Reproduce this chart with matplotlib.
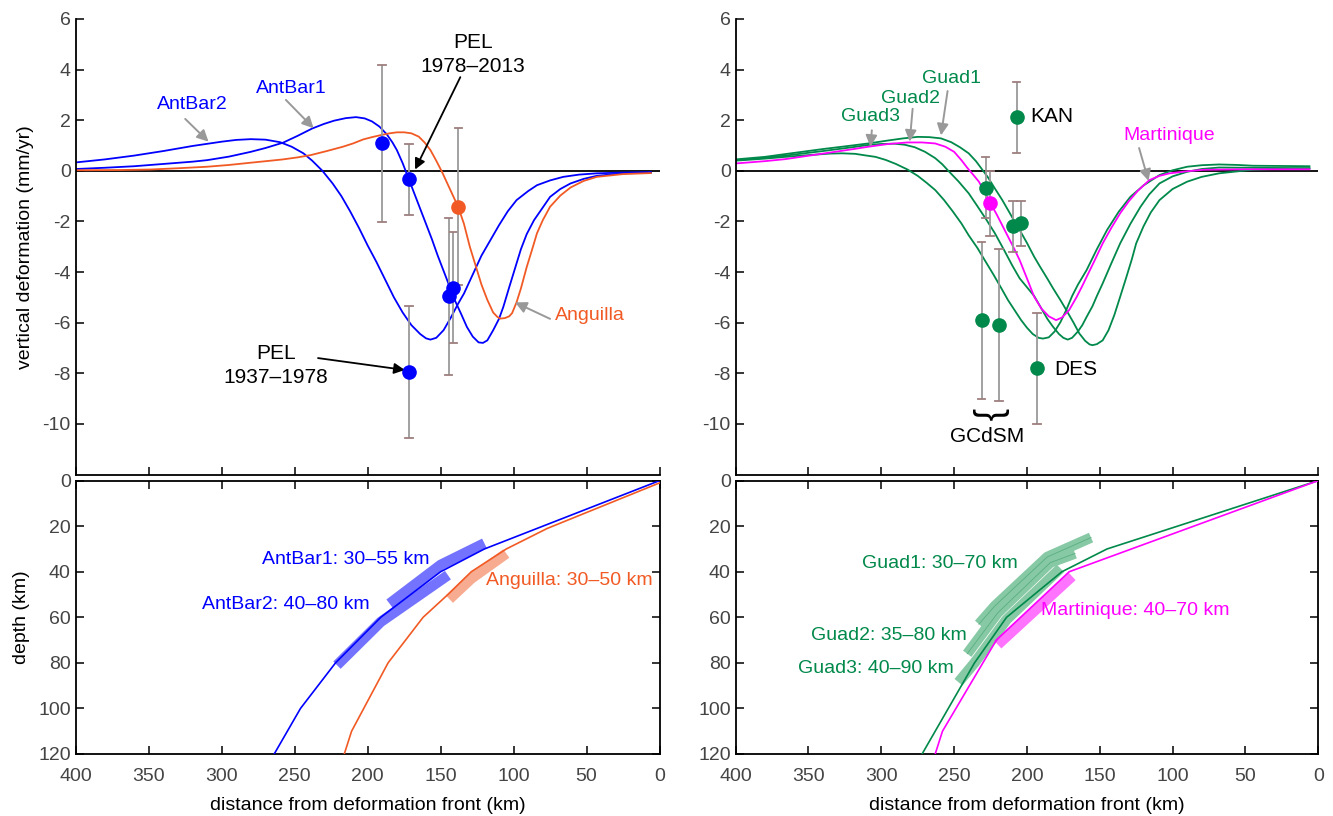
import numpy as np
import matplotlib
matplotlib.use("Agg")
import matplotlib.pyplot as plt

# colours
BLUE = "#0000ff"
ORANGE = "#f15a24"
GREEN = "#00894a"
MAGENTA = "#ff00ff"
GREY = "#9a9a9a"
CAP = "#9e7e7e"
NARROW = ["Liberation Sans Narrow", "Liberation Sans", "DejaVu Sans"]
PLAIN = ["Liberation Sans", "DejaVu Sans"]

# ---- top left: vertical deformation, Antigua/Barbuda + Anguilla models ----
antbar2_d = [400, 380, 360, 340, 320, 300, 290, 280, 270, 260, 252, 244, 238, 231,
             224, 218, 212, 206, 200, 194, 188, 182, 176, 170, 164, 160, 157, 153,
             148, 143, 138, 134, 128, 122, 116, 110, 104, 98, 90, 84, 75, 66, 55, 43,
             25, 6]
antbar2_v = [0.33, 0.45, 0.6, 0.78, 0.98, 1.15, 1.22, 1.25, 1.23, 1.13, 0.95, 0.69,
             0.4, 0.0, -0.5, -1.0, -1.6, -2.25, -2.95, -3.6, -4.3, -5.0, -5.6, -6.1,
             -6.45, -6.62, -6.67, -6.6, -6.3, -5.8, -5.25, -4.85, -4.1, -3.35, -2.75,
             -2.15, -1.6, -1.16, -0.8, -0.57, -0.38, -0.24, -0.15, -0.1, -0.07, -0.05]

antbar1_d = [400, 380, 360, 340, 320, 310, 295, 280, 270, 258, 248, 238, 230, 223,
             215, 208, 202, 197, 192, 187, 183, 180, 176, 172, 168, 164, 160, 156,
             152, 148, 144, 140, 136, 132, 128, 124, 121, 118, 114, 110, 107, 103, 99,
             95, 91, 86, 80, 75, 68, 61, 52, 43, 25, 6]
antbar1_v = [0.07, 0.12, 0.18, 0.27, 0.36, 0.42, 0.56, 0.75, 0.9, 1.11, 1.38, 1.67,
             1.85, 1.98, 2.08, 2.12, 2.07, 1.95, 1.75, 1.45, 1.12, 0.82, 0.3, -0.3,
             -0.9, -1.5, -2.1, -2.7, -3.35, -3.95, -4.55, -5.15, -5.65, -6.17, -6.55,
             -6.78, -6.8, -6.7, -6.3, -5.85, -5.37, -4.6, -3.85, -3.1, -2.5, -1.95,
             -1.45, -1.03, -0.72, -0.5, -0.32, -0.2, -0.1, -0.08]

anguilla_d = [400, 370, 349, 330, 310, 295, 280, 268, 258, 248, 239, 228, 217, 210,
              203, 197, 191, 185, 180, 175, 170, 165, 161, 157, 153, 149, 145, 141,
              138, 134, 130, 126, 122, 118, 114, 111, 109, 106, 103, 101, 98, 95, 91,
              87, 84, 80, 75, 68, 61, 52, 43, 25, 6]
anguilla_v = [0.02, 0.03, 0.05, 0.1, 0.16, 0.23, 0.32, 0.39, 0.45, 0.53, 0.62, 0.78,
              0.95, 1.08, 1.24, 1.33, 1.41, 1.48, 1.52, 1.52, 1.48, 1.35, 1.12, 0.82,
              0.4, -0.05, -0.55, -1.05, -1.42, -2.1, -3.0, -3.75, -4.5, -5.1, -5.6,
              -5.78, -5.84, -5.82, -5.75, -5.62, -5.2, -4.65, -3.8, -3.05, -2.47,
              -1.95, -1.42, -0.98, -0.66, -0.4, -0.24, -0.13, -0.09]

# observations (distance, rate, error)
obs_blue_d = [190, 171.6, 144.6, 141.2, 171.6]
obs_blue_v = [1.08, -0.33, -4.95, -4.62, -7.95]
obs_blue_e = [3.1, 1.4, 3.1, 2.2, 2.6]
obs_orange_d = [137.8]
obs_orange_v = [-1.42]
obs_orange_e = [3.1]

# ---- top right: Guadeloupe / Martinique models ----
guad3_d = [400, 380, 366, 350, 335, 327, 318, 310, 304, 297, 290, 282, 275, 269, 263,
           257, 251, 245, 240, 234, 229, 223, 218, 213, 208, 204, 200, 196, 192, 189,
           185, 181, 177, 173, 169, 165, 159, 152, 145, 137, 129, 120, 109, 100, 90,
           80, 68, 55, 45, 25, 6]
guad3_v = [0.4, 0.48, 0.55, 0.62, 0.68, 0.69, 0.67, 0.6, 0.55, 0.43, 0.27, 0.05, -0.2,
           -0.47, -0.76, -1.15, -1.6, -2.08, -2.55, -3.05, -3.53, -4.1, -4.6, -5.11,
           -5.55, -5.9, -6.2, -6.45, -6.6, -6.63, -6.58, -6.35, -5.98, -5.5, -4.95,
           -4.5, -3.92, -3.1, -2.34, -1.62, -1.03, -0.58, -0.17, 0.02, 0.16, 0.22,
           0.25, 0.23, 0.2, 0.19, 0.18]

guad2_d = [400, 380, 366, 340, 320, 309, 300, 291, 284, 277, 270, 263, 258, 254, 247,
           240, 234, 228, 222, 216, 210, 205, 200, 195, 190, 186, 182, 178, 175, 172,
           169, 165, 162, 159, 155, 152, 148, 142, 136, 129, 122, 116, 109, 100, 90,
           80, 68, 50, 25, 6]
guad2_v = [0.42, 0.52, 0.6, 0.78, 0.93, 1.02, 1.06, 1.07, 1.03, 0.93, 0.75, 0.5, 0.25,
           0.0, -0.42, -0.89, -1.4, -1.92, -2.47, -3.1, -3.75, -4.25, -4.6, -4.95,
           -5.45, -5.85, -6.17, -6.45, -6.6, -6.67, -6.6, -6.35, -6.1, -5.77, -5.35,
           -4.95, -4.45, -3.65, -2.87, -2.1, -1.42, -0.93, -0.5, -0.22, -0.04, 0.07,
           0.13, 0.12, 0.11, 0.1]

guad1_d = [400, 380, 366, 340, 320, 309, 295, 285, 275, 267, 259, 252, 246, 240, 235,
           231, 227, 222, 217, 213, 209, 205, 200, 195, 191, 186, 182, 177, 173, 168,
           164, 160, 157, 155, 152, 148, 144, 140, 136, 132, 128, 125, 120, 115, 109,
           100, 90, 80, 68, 55, 45, 25, 6]
guad1_v = [0.45, 0.55, 0.66, 0.86, 1.0, 1.08, 1.2, 1.28, 1.34, 1.33, 1.28, 1.13, 0.93,
           0.69, 0.38, 0.07, -0.24, -0.7, -1.15, -1.55, -1.95, -2.34, -2.85, -3.4,
           -3.79, -4.26, -4.65, -5.11, -5.5, -6.0, -6.43, -6.72, -6.86, -6.89, -6.85,
           -6.7, -6.3, -5.7, -4.98, -4.25, -3.5, -2.87, -2.2, -1.65, -1.16, -0.72,
           -0.43, -0.24, -0.1, -0.02, 0.04, 0.08, 0.1]

mart_d = [400, 380, 366, 340, 320, 309, 295, 282, 272, 263, 256, 250, 245, 241, 237,
          233, 229, 225, 221, 217, 213, 209, 205, 200, 195, 190, 185, 180, 176, 171,
          166, 162, 159, 154, 148, 142, 136, 130, 124, 116, 109, 102, 90, 79, 50, 6]
mart_v = [0.29, 0.38, 0.46, 0.68, 0.85, 0.95, 1.06, 1.12, 1.12, 1.08, 0.95, 0.75, 0.42,
          0.12, -0.15, -0.43, -0.85, -1.29, -1.7, -2.15, -2.6, -3.05, -3.53, -4.25,
          -4.98, -5.45, -5.75, -5.9, -5.8, -5.5, -5.0, -4.55, -4.19, -3.6, -2.87,
          -2.25, -1.68, -1.2, -0.8, -0.37, -0.2, -0.1, -0.02, 0.04, 0.06, 0.06]

obs_green_d = [207.1, 228.4, 209.4, 204.1, 231.1, 219.0, 192.9]
obs_green_v = [2.11, -0.67, -2.19, -2.08, -5.9, -6.1, -7.8]
obs_green_e = [1.4, 1.2, 1.0, 0.9, 3.1, 3.0, 2.2]
obs_mag_d = [225.4]
obs_mag_v = [-1.29]
obs_mag_e = [1.3]

# ---- bottom: slab geometry (distance, depth) ----
slab_ant_d = [264, 246, 222, 191, 150, 120, 0]
slab_ant_z = [120, 100, 80, 60, 40, 30, 0]
slab_ang_d = [216, 211, 186, 162, 145, 129, 105, 77, 0]
slab_ang_z = [120, 110, 80, 60, 50, 40, 30, 21, 1]
slab_gua_d = [272, 236, 214, 176, 145, 0]
slab_gua_z = [120, 80, 60, 40, 30, 0]
slab_mar_d = [263, 258, 221, 171, 0]
slab_mar_z = [120, 110, 70, 40, 0]

# highlighted locking depth ranges
band_ab1_d = [120, 150, 185]
band_ab1_z = [27.5, 37, 54]
band_ab2_d = [145, 191, 221]
band_ab2_z = [41.5, 62, 81]
band_ang_d = [105, 129, 144]
band_ang_z = [32, 43, 52]
band_g1_d = [156, 186, 222, 233]
band_g1_z = [25, 33.5, 55, 63]
band_g2_d = [167, 184, 220, 241]
band_g2_z = [32, 36, 58, 76]
band_g3_d = [177, 214, 236, 247]
band_g3_z = [38.5, 61, 80, 88.5]
band_mar_d = [169, 220]
band_mar_z = [42, 72]

plt.rcParams["font.family"] = PLAIN
plt.rcParams["axes.unicode_minus"] = False
fig = plt.figure(figsize=(13.33, 8.16), dpi=100)
ax_tl = fig.add_axes([0.0568, 0.4185, 0.438, 0.5583])
ax_tr = fig.add_axes([0.5519, 0.4185, 0.437, 0.5583])
ax_bl = fig.add_axes([0.0568, 0.076, 0.438, 0.335])
ax_br = fig.add_axes([0.5519, 0.076, 0.437, 0.335])


def style_top(ax):
    ax.set_xlim(400, 0)
    ax.set_ylim(-12, 6)
    ax.spines["top"].set_visible(False)
    ax.spines["right"].set_visible(False)
    for s in ("left", "bottom"):
        ax.spines[s].set_linewidth(1.3)
    ax.set_xticks(np.arange(0, 401, 50))
    ax.set_yticks(np.arange(-10, 7, 2))
    ax.tick_params(direction="in", length=6, width=1.1, labelsize=14,
                   labelcolor="#444444", labelbottom=False)
    ax.axhline(0, color="black", lw=1.3, zorder=1)


def style_bottom(ax):
    ax.set_xlim(400, 0)
    ax.set_ylim(120, 0)
    for s in ax.spines.values():
        s.set_linewidth(1.3)
    ax.set_xticks(np.arange(0, 401, 50))
    ax.set_yticks(np.arange(0, 121, 20))
    ax.tick_params(direction="in", length=6, width=1.1, labelsize=14,
                   labelcolor="#444444", top=True, right=True)
    ax.tick_params(axis="x", pad=10)
    ax.set_xlabel("distance from deformation front (km)", fontsize=14,
                  family=NARROW, labelpad=9)


def obs(ax, d, v, e, col):
    ax.errorbar(d, v, yerr=e, fmt="none", ecolor=GREY, elinewidth=1.3,
                capsize=0, zorder=3)
    # caps are slightly brownish
    for x, y, err in zip(d, v, e):
        ax.plot([x + 2.6, x - 2.6], [y + err, y + err], color=CAP, lw=1.3, zorder=3)
        ax.plot([x + 2.6, x - 2.6], [y - err, y - err], color=CAP, lw=1.3, zorder=3)
    ax.plot(d, v, "o", color=col, ms=9.5, zorder=5)


def grey_arrow(ax, tail, head):
    ax.annotate("", xy=head, xytext=tail,
                arrowprops=dict(arrowstyle="-|>", color="#999999", lw=1.4,
                                mutation_scale=17, shrinkA=0, shrinkB=0))


def black_arrow(ax, tail, head):
    ax.annotate("", xy=head, xytext=tail,
                arrowprops=dict(arrowstyle="-|>", color="black", lw=1.3,
                                mutation_scale=16, shrinkA=0, shrinkB=0))


# top left
style_top(ax_tl)
ax_tl.plot(antbar2_d, antbar2_v, color=BLUE, lw=1.3, zorder=2)
ax_tl.plot(antbar1_d, antbar1_v, color=BLUE, lw=1.3, zorder=2)
ax_tl.plot(anguilla_d, anguilla_v, color=ORANGE, lw=1.3, zorder=2)
obs(ax_tl, obs_blue_d, obs_blue_v, obs_blue_e, BLUE)
obs(ax_tl, obs_orange_d, obs_orange_v, obs_orange_e, ORANGE)
ax_tl.set_ylabel("vertical deformation (mm/yr)", fontsize=14, labelpad=6)

ax_tl.text(320, 2.6, "AntBar2", color=BLUE, fontsize=14, family=NARROW,
           ha="center", va="center")
grey_arrow(ax_tl, (325, 2.05), (309, 1.15))
ax_tl.text(252, 3.25, "AntBar1", color=BLUE, fontsize=14, family=NARROW,
           ha="center", va="center")
grey_arrow(ax_tl, (256, 2.8), (237, 1.68))
ax_tl.text(72, -5.7, "Anguilla", color=ORANGE, fontsize=14, family=NARROW,
           ha="left", va="center")
grey_arrow(ax_tl, (75, -5.85), (99, -5.2))
ax_tl.text(128, 4.6, "PEL\n1978\u20132013", color="black", fontsize=15,
           family=NARROW, ha="center", va="center", linespacing=1.3)
black_arrow(ax_tl, (136.5, 3.7), (167.5, 0.05))
ax_tl.text(263, -7.7, "PEL\n1937\u20131978", color="black", fontsize=15,
           family=NARROW, ha="center", va="center", linespacing=1.3)
black_arrow(ax_tl, (234, -7.4), (174.5, -7.87))

# top right
style_top(ax_tr)
ax_tr.plot(guad3_d, guad3_v, color=GREEN, lw=1.3, zorder=2)
ax_tr.plot(guad2_d, guad2_v, color=GREEN, lw=1.3, zorder=2)
ax_tr.plot(guad1_d, guad1_v, color=GREEN, lw=1.3, zorder=2)
ax_tr.plot(mart_d, mart_v, color=MAGENTA, lw=1.3, zorder=2)
obs(ax_tr, obs_green_d, obs_green_v, obs_green_e, GREEN)
obs(ax_tr, obs_mag_d, obs_mag_v, obs_mag_e, MAGENTA)

ax_tr.text(251.5, 3.65, "Guad1", color=GREEN, fontsize=14, family=NARROW,
           ha="center", va="center")
grey_arrow(ax_tr, (254.5, 3.15), (259, 1.4))
ax_tr.text(280, 2.85, "Guad2", color=GREEN, fontsize=14, family=NARROW,
           ha="center", va="center")
grey_arrow(ax_tr, (278.5, 2.45), (280.5, 1.15))
ax_tr.text(307.5, 2.15, "Guad3", color=GREEN, fontsize=14, family=NARROW,
           ha="center", va="center")
grey_arrow(ax_tr, (306.5, 1.6), (307.5, 0.95))
ax_tr.text(102, 1.4, "Martinique", color=MAGENTA, fontsize=14, family=NARROW,
           ha="center", va="center")
grey_arrow(ax_tr, (123, 0.9), (116.5, -0.4))
ax_tr.text(198, 2.13, "KAN", color="black", fontsize=15, family=NARROW,
           ha="left", va="center")
ax_tr.text(181.5, -7.85, "DES", color="black", fontsize=15, family=NARROW,
           ha="left", va="center")
ax_tr.text(225.5, -9.6, "}", color="black", fontsize=27, rotation=-90,
           ha="center", va="center")
ax_tr.text(227, -10.5, "GCdSM", color="black", fontsize=15, family=NARROW,
           ha="center", va="center")

# bottom left
style_bottom(ax_bl)
ax_bl.set_ylabel("depth (km)", fontsize=14, labelpad=6)
ax_bl.plot(band_ab1_d, band_ab1_z, color=BLUE, alpha=0.55, lw=7.5,
           solid_capstyle="butt", solid_joinstyle="round", zorder=2)
ax_bl.plot(band_ab2_d, band_ab2_z, color=BLUE, alpha=0.55, lw=7.5,
           solid_capstyle="butt", solid_joinstyle="round", zorder=2)
ax_bl.plot(band_ang_d, band_ang_z, color=ORANGE, alpha=0.5, lw=7.5,
           solid_capstyle="butt", solid_joinstyle="round", zorder=2)
ax_bl.plot(slab_ant_d, slab_ant_z, color=BLUE, lw=1.2, zorder=3)
ax_bl.plot(slab_ang_d, slab_ang_z, color=ORANGE, lw=1.2, zorder=3)
ax_bl.text(215, 34.5, "AntBar1: 30\u201355 km", color=BLUE, fontsize=14,
           family=NARROW, ha="center", va="center")
ax_bl.text(256, 54.5, "AntBar2: 40\u201380 km", color=BLUE, fontsize=14,
           family=NARROW, ha="center", va="center")
ax_bl.text(62, 44, "Anguilla: 30\u201350 km", color=ORANGE, fontsize=14,
           family=NARROW, ha="center", va="center")

# bottom right
style_bottom(ax_br)
for bd, bz in ((band_g3_d, band_g3_z), (band_g2_d, band_g2_z), (band_g1_d, band_g1_z)):
    ax_br.plot(bd, bz, color="#86c9a4", lw=7.5, solid_capstyle="butt",
               solid_joinstyle="round", zorder=2)
for bd, bz in ((band_g1_d, band_g1_z), (band_g2_d, band_g2_z)):
    ax_br.plot(bd, bz, color="#5aae80", lw=0.6, zorder=2.5)
ax_br.plot(band_mar_d, band_mar_z, color=MAGENTA, alpha=0.55, lw=7.5,
           solid_capstyle="butt", zorder=2)
ax_br.plot(slab_gua_d, slab_gua_z, color=GREEN, lw=1.2, zorder=3)
ax_br.plot(slab_mar_d, slab_mar_z, color=MAGENTA, lw=1.2, zorder=3)
ax_br.text(259.5, 36.5, "Guad1: 30\u201370 km", color=GREEN, fontsize=14,
           family=NARROW, ha="center", va="center")
ax_br.text(295, 68, "Guad2: 35\u201380 km", color=GREEN, fontsize=14,
           family=NARROW, ha="center", va="center")
ax_br.text(304, 82.5, "Guad3: 40\u201390 km", color=GREEN, fontsize=14,
           family=NARROW, ha="center", va="center")
ax_br.text(125.5, 57, "Martinique: 40\u201370 km", color=MAGENTA, fontsize=14,
           family=NARROW, ha="center", va="center")

fig.savefig("out.png", dpi=100)
